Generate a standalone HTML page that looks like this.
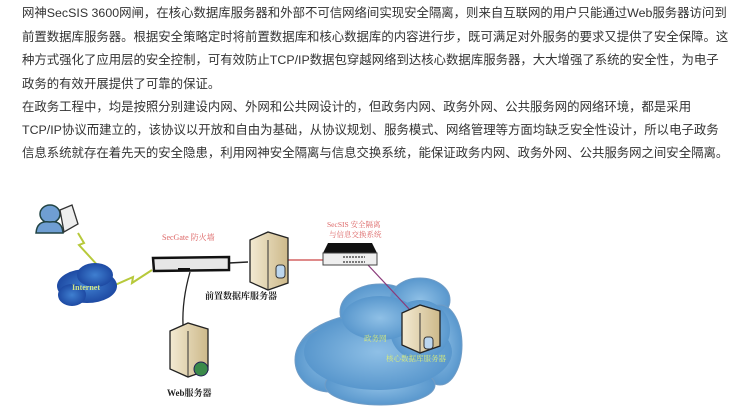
<!DOCTYPE html>
<html><head><meta charset="utf-8"><style>
html,body{margin:0;padding:0;background:#fff;width:750px;height:415px;overflow:hidden}
.t{position:absolute;left:22px;font-family:"Liberation Sans","Noto Sans CJK SC",sans-serif;font-size:12.4px;color:#333;white-space:nowrap;line-height:16px}
svg{position:absolute;left:0;top:0}
</style></head><body>
<div class="t" style="top:5px">网神SecSIS 3600网闸，在核心数据库服务器和外部不可信网络间实现安全隔离，则来自互联网的用户只能通过Web服务器访问到</div>
<div class="t" style="top:29px">前置数据库服务器。根据安全策略定时将前置数据库和核心数据库的内容进行步，既可满足对外服务的要求又提供了安全保障。这</div>
<div class="t" style="top:52px">种方式强化了应用层的安全控制，可有效防止TCP/IP数据包穿越网络到达核心数据库服务器，大大增强了系统的安全性，为电子</div>
<div class="t" style="top:76px">政务的有效开展提供了可靠的保证。</div>
<div class="t" style="top:99px">在政务工程中，均是按照分别建设内网、外网和公共网设计的，但政务内网、政务外网、公共服务网的网络环境，都是采用</div>
<div class="t" style="top:122px">TCP/IP协议而建立的，该协议以开放和自由为基础，从协议规划、服务模式、网络管理等方面均缺乏安全性设计，所以电子政务</div>
<div class="t" style="top:145px">信息系统就存在着先天的安全隐患，利用网神安全隔离与信息交换系统，能保证政务内网、政务外网、公共服务网之间安全隔离。</div>
<svg width="750" height="415" viewBox="0 0 750 415" font-family="Liberation Serif,Noto Serif CJK SC,serif">
<defs>
<radialGradient id="cl" cx="50%" cy="50%" r="60%"><stop offset="0" stop-color="#8fc0e6"/><stop offset="1" stop-color="#4e8fc8"/></radialGradient>
<radialGradient id="ci" cx="50%" cy="50%" r="60%"><stop offset="0" stop-color="#3f7fd0"/><stop offset="1" stop-color="#173f9a"/></radialGradient>
<linearGradient id="sv" x1="0" x2="1"><stop offset="0" stop-color="#f3ead2"/><stop offset="1" stop-color="#cdb98a"/></linearGradient>
</defs>
<g fill="url(#cl)" stroke="#6f9cc6" stroke-width="1">
<ellipse cx="375" cy="355" rx="78" ry="42"/>
<ellipse cx="330" cy="360" rx="35" ry="32"/>
<ellipse cx="380" cy="312" rx="40" ry="28"/>
<ellipse cx="420" cy="300" rx="30" ry="22"/>
<ellipse cx="440" cy="345" rx="22" ry="40"/>
<ellipse cx="380" cy="385" rx="55" ry="20"/>
</g>
<ellipse cx="378" cy="352" rx="74" ry="38" fill="url(#cl)"/>
<ellipse cx="420" cy="330" rx="30" ry="30" fill="url(#cl)"/>
<ellipse cx="380" cy="318" rx="38" ry="22" fill="url(#cl)"/>
<path d="M229 263 L248 262" stroke="#222" stroke-width="1.5"/>
<path d="M288 260 L323 260" stroke="#c44" stroke-width="1.2"/>
<path d="M368 265 L410 310" stroke="#8a3a7a" stroke-width="1.2"/>
<path d="M190 272 Q182 300 183 325" stroke="#222" stroke-width="1.3" fill="none"/>
<path d="M78 233 L84 243 L79 245 L100 268" stroke="#b7c93b" stroke-width="2" fill="none"/>
<path d="M115 285 L133 277 L132 283 L152 270" stroke="#b7c93b" stroke-width="2" fill="none"/>
<ellipse cx="50" cy="214" rx="10" ry="9" fill="#6f9ed2" stroke="#244" stroke-width="1.5"/>
<path d="M36 233 Q37 220 50 222 Q62 220 63 233 Z" fill="#6f9ed2" stroke="#244" stroke-width="1.5"/>
<path d="M60 210 L72 205 L78 224 L64 232 Z" fill="#eee" stroke="#333" stroke-width="1.3"/>
<g fill="url(#ci)"><ellipse cx="87" cy="286" rx="30" ry="17"/><ellipse cx="95" cy="275" rx="18" ry="12"/><ellipse cx="72" cy="295" rx="14" ry="11"/></g>
<text x="72" y="290" font-size="8" fill="#cfe58a" font-weight="bold">Internet</text>
<text x="162" y="240" font-size="8" fill="#d66">SecGate 防火墙</text>
<path d="M153 258 L229 257 L229 270 L154 271 Z" fill="#e6e6e6" stroke="#111" stroke-width="2.5"/>
<rect x="178" y="268" width="12" height="3" fill="#111"/>
<path d="M250 240 L268 232 L288 238 L288 283 L268 290 L250 282 Z" fill="url(#sv)" stroke="#222" stroke-width="1.3"/>
<path d="M268 240 L268 290" stroke="#333"/>
<rect x="276" y="265" width="9" height="13" rx="3" fill="#bcd6ee" stroke="#333"/>
<text x="205" y="299" font-size="9" fill="#222" font-weight="bold">前置数据库服务器</text>
<text x="327" y="227" font-size="7.5" fill="#d66">SecSIS 安全隔离</text>
<text x="329" y="237" font-size="7.5" fill="#d66">与信息交换系统</text>
<path d="M328 243 L372 243 L377 253 L323 253 Z" fill="#111"/>
<rect x="323" y="253" width="54" height="12" fill="#eee" stroke="#444"/>
<path d="M343 257 H365 M343 262 H365" stroke="#555" stroke-width="1.5" stroke-dasharray="2 1"/>
<path d="M170 331 L188 323 L208 329 L208 370 L188 377 L170 369 Z" fill="url(#sv)" stroke="#222" stroke-width="1.3"/>
<path d="M188 331 L188 377" stroke="#333"/>
<circle cx="201" cy="369" r="7" fill="#3a8a4a" stroke="#225"/>
<text x="167" y="396" font-size="9" fill="#222" font-weight="bold">Web服务器</text>
<path d="M402 313 L420 305 L440 311 L440 346 L420 353 L402 345 Z" fill="url(#sv)" stroke="#222" stroke-width="1.3"/>
<path d="M420 313 L420 353" stroke="#333"/>
<rect x="424" y="337" width="9" height="12" rx="3" fill="#bcd6ee" stroke="#333"/>
<text x="364" y="341" font-size="7.5" fill="#d9ec7a">政务网</text>
<text x="386" y="361" font-size="7.5" fill="#d9ec7a">核心数据库服务器</text>
</svg>
</body></html>
